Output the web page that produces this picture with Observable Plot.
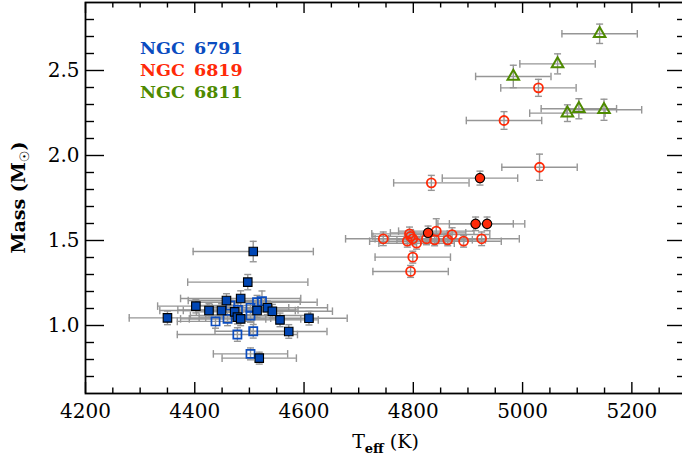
<!DOCTYPE html>
<html><head><meta charset="utf-8">
<script src="https://cdn.jsdelivr.net/npm/d3@7"></script>
<script src="https://cdn.jsdelivr.net/npm/@observablehq/plot@0.6"></script>
<style>
body{margin:0;background:#fff}
#chart svg{display:block}
</style>
</head><body><div id="chart"></div>
<script>
// ---- Data ----
// NGC 6791 (blue squares): filled
const n6791F_teff = [4507, 4497, 4458, 4484, 4402, 4426, 4449, 4473, 4478, 4484, 4514, 4533, 4542, 4556, 4609, 4350, 4572, 4518];
const n6791F_mass = [1.435, 1.255, 1.147, 1.159, 1.114, 1.088, 1.088, 1.080, 1.049, 1.039, 1.088, 1.104, 1.084, 1.033, 1.043, 1.045, 0.965, 0.808];
const n6791F_terr = [110, 110, 70, 110, 70, 90, 70, 70, 70, 110, 70, 110, 110, 70, 70, 70, 70, 68];
const n6791F_merr = [0.06, 0.045, 0.04, 0.045, 0.04, 0.04, 0.04, 0.04, 0.04, 0.04, 0.04, 0.04, 0.04, 0.04, 0.04, 0.04, 0.04, 0.035];
// NGC 6791 open squares
const n6791O_teff = [4523, 4514, 4465, 4479, 4502, 4502, 4460, 4438, 4507, 4478, 4502];
const n6791O_mass = [1.143, 1.137, 1.118, 1.092, 1.104, 1.059, 1.039, 1.024, 0.966, 0.947, 0.833];
const n6791O_terr = [70, 110, 70, 110, 70, 110, 70, 70, 70, 110, 68];
const n6791O_merr = [0.06, 0.04, 0.04, 0.04, 0.04, 0.04, 0.04, 0.04, 0.04, 0.04, 0.035];
// NGC 6819 (red circles): open
const n6819O_teff = [5031, 5029, 4966, 4833, 4842, 4745, 4793, 4795, 4789, 4799, 4806, 4824, 4839, 4863, 4871, 4892, 4925, 4799, 4795];
const n6819O_mass = [1.931, 2.398, 2.206, 1.839, 1.555, 1.510, 1.539, 1.524, 1.496, 1.510, 1.484, 1.510, 1.504, 1.504, 1.535, 1.496, 1.510, 1.402, 1.318];
const n6819O_terr = [69, 69, 69, 69, 69, 69, 69, 69, 69, 69, 69, 69, 69, 69, 69, 69, 69, 69, 69];
const n6819O_merr = [0.077, 0.05, 0.052, 0.044, 0.073, 0.04, 0.04, 0.04, 0.035, 0.035, 0.035, 0.035, 0.035, 0.035, 0.04, 0.035, 0.04, 0.035, 0.035];
// NGC 6819 filled
const n6819F_teff = [4922, 4914, 4935, 4827];
const n6819F_mass = [1.867, 1.598, 1.598, 1.545];
const n6819F_terr = [69, 69, 69, 69];
const n6819F_merr = [0.041, 0.04, 0.04, 0.04];
// NGC 6811 (green triangles)
const n6811_teff = [5141, 5064, 4983, 5082, 5103, 5149];
const n6811_mass = [2.716, 2.539, 2.465, 2.249, 2.275, 2.269];
const n6811_terr = [69, 69, 69, 69, 69, 69];
const n6811_merr = [0.057, 0.059, 0.066, 0.049, 0.059, 0.062];

const legendLabels = ["NGC 6791", "NGC 6819", "NGC 6811"];
const xMajor = [4200, 4400, 4600, 4800, 5000, 5200];
const xMinor = [4250, 4300, 4350, 4450, 4500, 4550, 4650, 4700, 4750, 4850, 4900, 4950, 5050, 5100, 5150, 5250];
const yMajor = [1.0, 1.5, 2.0, 2.5];
const yMinor = [0.7, 0.8, 0.9, 1.1, 1.2, 1.3, 1.4, 1.6, 1.7, 1.8, 1.9, 2.1, 2.2, 2.3, 2.4, 2.6, 2.7, 2.8];

// ---- build tables ----
const rows = (T, M, TE, ME) => T.map((t, i) => ({t, m: M[i], te: TE[i], me: ME[i]}));
const g6791F = rows(n6791F_teff, n6791F_mass, n6791F_terr, n6791F_merr);
const g6791O = rows(n6791O_teff, n6791O_mass, n6791O_terr, n6791O_merr);
const g6819O = rows(n6819O_teff, n6819O_mass, n6819O_terr, n6819O_merr);
const g6819F = rows(n6819F_teff, n6819F_mass, n6819F_terr, n6819F_merr);
const g6811 = rows(n6811_teff, n6811_mass, n6811_terr, n6811_merr);
const all = [...g6791F, ...g6791O, ...g6819O, ...g6819F, ...g6811];

const BLUE = "#0a4cc0", BLUEF = "#0046b4", RED = "#ff2a08", GREEN = "#4e8a00", GRAY = "#969696";

const vcap = {draw(ctx, size) { const h = Math.sqrt(size / Math.PI); ctx.moveTo(0, -h); ctx.lineTo(0, h); }};
const hcap = {draw(ctx, size) { const h = Math.sqrt(size / Math.PI); ctx.moveTo(-h, 0); ctx.lineTo(h, 0); }};

const W = 682, H = 461, mL = 85, mR = -4, mT = 2, mB = 68;
const plotW = W - mL - mR, plotH = H - mT - mB;
const tk = {stroke: "black", strokeWidth: 1.4};

const chart = Plot.plot({
  width: W, height: H,
  marginLeft: mL, marginRight: mR, marginTop: mT, marginBottom: mB,
  x: {domain: [4200, 5300]},
  y: {domain: [0.6, 2.9]},
  style: {fontFamily: "'DejaVu Serif', serif", fontSize: "20px", color: "black", background: "white"},
  marks: [
    // error bars
    Plot.ruleY(all, {y: "m", x1: d => d.t - d.te, x2: d => d.t + d.te, stroke: GRAY, strokeWidth: 1.4}),
    Plot.ruleX(all, {x: "t", y1: d => d.m - d.me, y2: d => d.m + d.me, stroke: GRAY, strokeWidth: 1.4}),
    Plot.dot(all, {x: d => d.t - d.te, y: "m", symbol: vcap, r: 3.8, fill: "none", stroke: GRAY, strokeWidth: 1.4}),
    Plot.dot(all, {x: d => d.t + d.te, y: "m", symbol: vcap, r: 3.8, fill: "none", stroke: GRAY, strokeWidth: 1.4}),
    Plot.dot(all, {x: "t", y: d => d.m - d.me, symbol: hcap, r: 3.5, fill: "none", stroke: GRAY, strokeWidth: 1.4}),
    Plot.dot(all, {x: "t", y: d => d.m + d.me, symbol: hcap, r: 3.5, fill: "none", stroke: GRAY, strokeWidth: 1.4}),
    // markers
    Plot.dot(g6791O, {x: "t", y: "m", symbol: "square", r: 4.6, fill: "none", stroke: BLUE, strokeWidth: 1.7}),
    Plot.dot(g6791F, {x: "t", y: "m", symbol: "square", r: 4.8, fill: BLUEF, stroke: "black", strokeWidth: 1.1}),
    Plot.dot(g6819O, {x: "t", y: "m", symbol: "circle", r: 4.5, fill: "none", stroke: RED, strokeWidth: 1.8}),
    Plot.dot(g6819F, {x: "t", y: "m", symbol: "circle", r: 4.7, fill: RED, stroke: "black", strokeWidth: 1.1}),
    Plot.dot(g6811, {x: "t", y: "m", symbol: "triangle", r: 4.3, fill: "none", stroke: GREEN, strokeWidth: 2}),
    // inward ticks
    Plot.tickX(xMajor, {x: d => d, insetTop: plotH - 11, ...tk}),
    Plot.tickX(xMinor, {x: d => d, insetTop: plotH - 5.5, ...tk}),
    Plot.tickX(xMajor, {x: d => d, insetBottom: plotH - 11, ...tk}),
    Plot.tickX(xMinor, {x: d => d, insetBottom: plotH - 5.5, ...tk}),
    Plot.tickY(yMajor, {y: d => d, insetRight: plotW - 19, ...tk}),
    Plot.tickY(yMinor, {y: d => d, insetRight: plotW - 9, ...tk}),
    Plot.tickY(yMajor, {y: d => d, insetLeft: plotW - 19, ...tk}),
    Plot.tickY(yMinor, {y: d => d, insetLeft: plotW - 9, ...tk}),
    Plot.frame({stroke: "black", strokeWidth: 1.8}),
    Plot.axisX({ticks: xMajor, tickSize: 0, tickPadding: 10, tickFormat: d => String(d), label: null, fontSize: 20}),
    Plot.axisY({ticks: yMajor, tickSize: 0, tickPadding: 6, tickFormat: d3.format(".1f"), label: null, fontSize: 20})
  ]
});
document.getElementById("chart").appendChild(chart);

const svg = d3.select(chart);
// legend
const legendColors = [BLUE, RED, GREEN];
legendLabels.forEach((s, i) => {
  svg.append("text").attr("x", 140).attr("y", 54 + i * 22).attr("text-anchor", "start")
    .attr("fill", legendColors[i]).attr("font-family", "'DejaVu Serif', serif")
    .attr("font-weight", "bold").attr("font-size", 17.5).attr("word-spacing", 3).text(s);
});
// x title
const xt = svg.append("text").attr("x", (mL + W - mR) / 2).attr("y", 448)
  .attr("text-anchor", "middle").attr("font-family", "'DejaVu Serif', serif").attr("font-size", 19);
xt.append("tspan").text("T");
xt.append("tspan").attr("dy", 5).attr("font-size", 13).attr("font-weight", "bold").text("eff");
xt.append("tspan").attr("dy", -5).text(" (K)");
// y title
const yt = svg.append("text").attr("transform", `translate(25,${(mT + H - mB) / 2}) rotate(-90)`)
  .attr("text-anchor", "middle").attr("font-family", "'DejaVu Serif', serif").attr("font-weight", "bold").attr("font-size", 19);
yt.append("tspan").text("Mass (M");
yt.append("tspan").attr("dy", 4).attr("font-size", 13).attr("font-family", "'DejaVu Sans', sans-serif").text("\u2609");
yt.append("tspan").attr("dy", -4).text(")");
</script>
</body></html>
